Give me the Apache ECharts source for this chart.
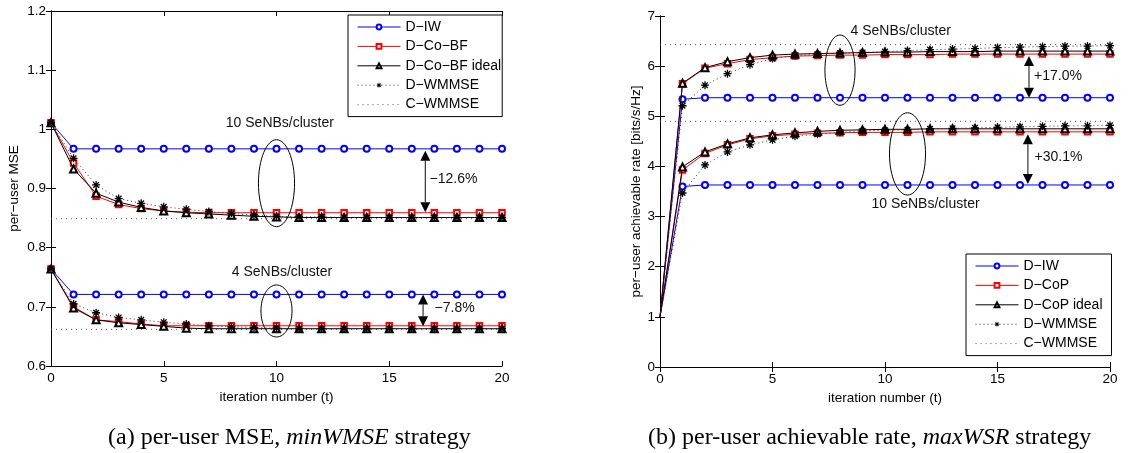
<!DOCTYPE html>
<html>
<head>
<meta charset="utf-8">
<script src="https://cdn.jsdelivr.net/npm/echarts@6/dist/echarts.min.js"></script>
<style>html,body{margin:0;background:#fff}#c{width:1128px;height:453px}</style>
</head>
<body>
<div id="c"></div>
<script>
const iters = [0,1,2,3,4,5,6,7,8,9,10,11,12,13,14,15,16,17,18,19,20];

// (a) per-user MSE, 10 SeNBs/cluster
const mseIW10    = [1.011,0.967,0.967,0.967,0.967,0.967,0.967,0.967,0.967,0.967,0.967,0.967,0.967,0.967,0.967,0.967,0.967,0.967,0.967,0.967,0.967];
const mseBF10    = [1.011,0.943,0.887,0.873,0.866,0.862,0.860,0.859,0.859,0.859,0.859,0.859,0.859,0.859,0.859,0.859,0.859,0.859,0.859,0.859,0.859];
const mseIdeal10 = [1.011,0.933,0.892,0.877,0.868,0.862,0.859,0.857,0.855,0.853,0.852,0.851,0.851,0.851,0.851,0.851,0.851,0.851,0.851,0.851,0.851];
const mseWM10    = [1.011,0.951,0.906,0.883,0.875,0.869,0.865,0.861,0.858,0.855,0.853,0.852,0.852,0.851,0.851,0.851,0.851,0.851,0.851,0.851,0.851];
const mseC10 = 0.849;
// (a) per-user MSE, 4 SeNBs/cluster
const mseIW4     = [0.764,0.721,0.721,0.721,0.721,0.721,0.721,0.721,0.721,0.721,0.721,0.721,0.721,0.721,0.721,0.721,0.721,0.721,0.721,0.721,0.721];
const mseBF4     = [0.764,0.700,0.678,0.675,0.671,0.668,0.668,0.668,0.668,0.668,0.668,0.668,0.668,0.668,0.668,0.668,0.668,0.668,0.668,0.668,0.668];
const mseIdeal4  = [0.764,0.698,0.678,0.673,0.670,0.667,0.664,0.663,0.663,0.663,0.663,0.663,0.663,0.663,0.663,0.663,0.663,0.663,0.663,0.663,0.663];
const mseWM4     = [0.764,0.705,0.690,0.682,0.678,0.674,0.671,0.668,0.666,0.665,0.664,0.663,0.663,0.663,0.663,0.663,0.663,0.663,0.663,0.663,0.663];
const mseC4 = 0.662;

// (b) per-user achievable rate, 4 SeNBs/cluster
const rateIW4    = [1,5.34,5.37,5.37,5.37,5.37,5.37,5.37,5.37,5.37,5.37,5.37,5.37,5.37,5.37,5.37,5.37,5.37,5.37,5.37,5.37];
const rateCoP4   = [1,5.65,5.96,6.05,6.13,6.17,6.20,6.21,6.22,6.22,6.23,6.23,6.23,6.24,6.24,6.24,6.24,6.24,6.24,6.24,6.24];
const rateIdeal4 = [1,5.66,5.97,6.09,6.17,6.22,6.24,6.25,6.26,6.27,6.28,6.28,6.29,6.29,6.29,6.30,6.30,6.30,6.30,6.30,6.30];
const rateWM4    = [1,5.21,5.62,5.85,6.03,6.15,6.21,6.24,6.26,6.27,6.29,6.31,6.33,6.34,6.35,6.37,6.38,6.39,6.40,6.40,6.41];
const rateC4 = 6.43;
// (b) per-user achievable rate, 10 SeNBs/cluster
const rateIW10    = [1,3.60,3.63,3.63,3.63,3.63,3.63,3.63,3.63,3.63,3.63,3.63,3.63,3.63,3.63,3.63,3.63,3.63,3.63,3.63,3.63];
const rateCoP10   = [1,3.93,4.26,4.43,4.55,4.61,4.64,4.66,4.67,4.68,4.68,4.68,4.69,4.69,4.69,4.69,4.69,4.69,4.69,4.69,4.69];
const rateIdeal10 = [1,3.99,4.29,4.45,4.57,4.63,4.67,4.70,4.72,4.73,4.74,4.74,4.75,4.75,4.75,4.75,4.75,4.75,4.75,4.75,4.75];
const rateWM10    = [1,3.47,4.03,4.29,4.43,4.53,4.60,4.64,4.68,4.71,4.72,4.73,4.75,4.76,4.77,4.78,4.79,4.80,4.81,4.81,4.82];
const rateC10 = 4.90;

const legendA = ['D\u2212IW','D\u2212Co\u2212BF','D\u2212Co\u2212BF ideal','D\u2212WMMSE','C\u2212WMMSE'];
const legendB = ['D\u2212IW','D\u2212CoP','D\u2212CoP ideal','D\u2212WMMSE','C\u2212WMMSE'];

// annotations: ellipses [t, y, rx, ry], arrows [t, yTop, yBottom], notes [t, y] + text
const ellipsesA = [[10,0.909,0.8,0.0735],[10,0.693,0.69,0.044]];
const arrowsA = [[16.6,0.964,0.860],[16.5,0.721,0.667]];
const notesA = [[10.15,1.011],[10.24,0.759],[17.85,0.916],[17.9,0.697]];
const notesAText = ['10 SeNBs/cluster','4 SeNBs/cluster','\u221212.6%','\u22127.8%'];
const ellipsesB = [[8,5.92,0.67,0.70],[11,4.25,0.8,0.82]];
const arrowsB = [[16.4,6.20,5.37],[16.35,4.64,3.65]];
const notesB = [[10.7,6.706],[11.8,3.24],[17.69,5.80],[17.71,4.186]];
const notesBText = ['4 SeNBs/cluster','10 SeNBs/cluster','+17.0%','+30.1%'];

const F = '"Liberation Sans", Arial, sans-serif';
const SERIF = '"Liberation Serif", serif';
const STAR = 'path://M-1.6,-10L1.6,-10L1.6,10L-1.6,10Z M-10,-1.6L10,-1.6L10,1.6L-10,1.6Z M-5.9,-8.2L8.2,5.9L5.9,8.2L-8.2,-5.9Z M5.9,-8.2L8.2,-5.9L-5.9,8.2L-8.2,5.9Z';

const st = {
  iw:    {color:'#0000ff', symbol:'emptyCircle', size:6, type:'solid', z:3},
  cop:   {color:'#ff0000', symbol:'emptyRect', size:5.5, type:'solid', z:4},
  ideal: {color:'#000000', symbol:'emptyTriangle', size:7, type:'solid', z:5},
  wm:    {color:'#000000', symbol:STAR, size:8, type:[1,3], line:'#333', z:6}
};

function line(name, vals, s, g, noFirst){
  return {
    name, type:'line', xAxisIndex:g, yAxisIndex:g, symbol:s.symbol, symbolSize:s.size, z:s.z,
    silent:true, animation:false,
    data: vals.map((v,i) => noFirst && i === 0 ? {value:[iters[i],v], symbol:'none'} : [iters[i],v]),
    lineStyle:{color:s.line || s.color, width:1, type:s.type},
    itemStyle:{color:s.color, borderWidth: s.symbol === STAR ? 0 : 1}
  };
}
function flat(name, v, g){
  return {
    name, type:'line', xAxisIndex:g, yAxisIndex:g, symbol:'none', z:2, silent:true, animation:false,
    data:[[iters[0],v],[iters[iters.length-1],v]],
    lineStyle:{color:'#555', width:1, type:[1,4]}, itemStyle:{color:'#555', opacity:0}
  };
}
function annot(g, ellipses, arrows, notes, texts){
  return [{
    type:'custom', xAxisIndex:g, yAxisIndex:g, silent:true, z:10, clip:false, data:ellipses,
    renderItem:(p, api) => {
      const c = api.coord([api.value(0), api.value(1)]);
      const s = api.size([api.value(2), api.value(3)]);
      return {type:'ellipse', shape:{cx:c[0], cy:c[1], rx:s[0], ry:s[1]}, style:{fill:null, stroke:'#000', lineWidth:1}};
    }
  },{
    type:'custom', xAxisIndex:g, yAxisIndex:g, silent:true, z:10, clip:false, data:arrows,
    renderItem:(p, api) => {
      const a = api.coord([api.value(0), api.value(1)]);
      const b = api.coord([api.value(0), api.value(2)]);
      const x = a[0], h = 10, w = 5;
      return {type:'group', children:[
        {type:'line', shape:{x1:x, y1:a[1]+h, x2:x, y2:b[1]-h}, style:{stroke:'#333', lineWidth:1.2}},
        {type:'polygon', shape:{points:[[x,a[1]],[x-w,a[1]+h],[x+w,a[1]+h]]}, style:{fill:'#000'}},
        {type:'polygon', shape:{points:[[x,b[1]],[x-w,b[1]-h],[x+w,b[1]-h]]}, style:{fill:'#000'}}
      ]};
    }
  },{
    type:'custom', xAxisIndex:g, yAxisIndex:g, silent:true, z:10, clip:false, data:notes,
    renderItem:(p, api) => {
      const c = api.coord([api.value(0), api.value(1)]);
      return {type:'text', x:c[0], y:c[1], style:{text:texts[p.dataIndex], fontFamily:F, fontSize:14, fill:'#111', align:'center', verticalAlign:'middle'}};
    }
  }];
}

function xAx(g, top, name){
  return {
    gridIndex:g, type:'value', min:0, max:20, interval:5, position: top ? 'top' : 'bottom',
    axisLine:{show:true, lineStyle:{color:'#000', width:1}},
    axisTick:{show:true, inside:true, length:5, lineStyle:{color:'#000'}},
    axisLabel:{show:!top, color:'#000', fontFamily:F, fontSize:13.5, margin:5},
    splitLine:{show:false},
    name: top ? '' : name, nameLocation:'middle', nameGap:19,
    nameTextStyle:{color:'#000', fontFamily:F, fontSize:13.5}
  };
}
function yAx(g, right, min, max, step, name, gap){
  return {
    gridIndex:g, type:'value', min, max, interval:step, position: right ? 'right' : 'left',
    axisLine:{show:true, lineStyle:{color:'#000', width:1}},
    axisTick:{show:true, inside:true, length:5, lineStyle:{color:'#000'}},
    axisLabel:{show:!right, color:'#000', fontFamily:F, fontSize:13.5, margin:5},
    splitLine:{show:false},
    name: right ? '' : name, nameLocation:'middle', nameGap:gap,
    nameTextStyle:{color:'#000', fontFamily:F, fontSize:13.5}
  };
}

const legendBase = {
  orient:'vertical', selectedMode:false, backgroundColor:'#fff', borderColor:'#000', borderWidth:1,
  itemWidth:43, itemHeight:6, itemGap:5.4, lineStyle:{width:1},
  textStyle:{color:'#000', fontFamily:F, fontSize:14}
};
const legendItems = names => names.map((n,i) => i === 4 ? {name:n, itemStyle:{opacity:0}} : n);

const captionStyle = {fontFamily:SERIF, fontSize:24, fill:'#000', align:'left', verticalAlign:'middle',
  rich:{i:{fontStyle:'italic', fontFamily:SERIF, fontSize:24}}};

const chart = echarts.init(document.getElementById('c'));
chart.setOption({
  animation:false,
  grid:[
    {left:51, top:11, width:451, height:355},
    {left:660, top:16, width:450, height:351}
  ],
  xAxis:[xAx(0,false,'iteration number (t)'), xAx(1,false,'iteration number (t)'), xAx(0,true), xAx(1,true)],
  yAxis:[
    yAx(0,false,0.6,1.2,0.1,'per\u2212user MSE',30),
    yAx(1,false,0,7,1,'per\u2212user achievable rate [bits/s/Hz]',17),
    yAx(0,true,0.6,1.2,0.1),
    yAx(1,true,0,7,1)
  ],
  legend:[
    {...legendBase, data:legendItems(legendA), left:348, top:15, padding:[5,1,5,9]},
    {...legendBase, data:legendItems(legendB), left:966, top:254, padding:[5,9,5,9]}
  ],
  series:[
    flat(legendA[4], mseC10, 0), flat(legendA[4], mseC4, 0),
    line(legendA[0], mseIW10, st.iw, 0), line(legendA[0], mseIW4, st.iw, 0),
    line(legendA[1], mseBF10, st.cop, 0), line(legendA[1], mseBF4, st.cop, 0),
    line(legendA[2], mseIdeal10, st.ideal, 0), line(legendA[2], mseIdeal4, st.ideal, 0),
    line(legendA[3], mseWM10, st.wm, 0), line(legendA[3], mseWM4, st.wm, 0),
    flat(legendB[4], rateC4, 1), flat(legendB[4], rateC10, 1),
    line(legendB[0], rateIW4, st.iw, 1, true), line(legendB[0], rateIW10, st.iw, 1, true),
    line(legendB[1], rateCoP4, st.cop, 1, true), line(legendB[1], rateCoP10, st.cop, 1, true),
    line(legendB[2], rateIdeal4, st.ideal, 1, true), line(legendB[2], rateIdeal10, st.ideal, 1, true),
    line(legendB[3], rateWM4, st.wm, 1, true), line(legendB[3], rateWM10, st.wm, 1, true),
    ...annot(0, ellipsesA, arrowsA, notesA, notesAText),
    ...annot(1, ellipsesB, arrowsB, notesB, notesBText)
  ],
  graphic:[
    {type:'text', x:108, y:438, style:{...captionStyle, text:'(a) per-user MSE, {i|minWMSE} strategy'}},
    {type:'text', x:648, y:438, style:{...captionStyle, text:'(b) per-user achievable rate, {i|maxWSR} strategy'}}
  ]
});
</script>
</body>
</html>
